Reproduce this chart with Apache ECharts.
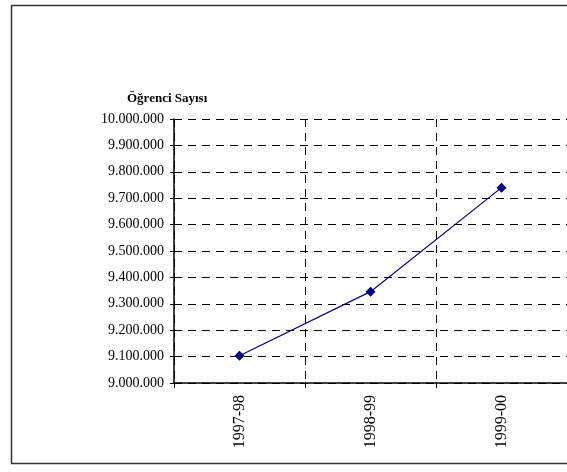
<!DOCTYPE html>
<html>
<head>
<meta charset="utf-8">
<script src="https://cdn.jsdelivr.net/npm/echarts@6/dist/echarts.min.js"></script>
<style>
html,body{margin:0;padding:0;background:#fff;}
#c{width:567px;height:472px;}
</style>
</head>
<body>
<div id="c"></div>
<script>
const categories = ['1997-98', '1998-99', '1999-00'];
const values = [9103000, 9346000, 9740000];
const yMin = 9000000, yMax = 10000000, yStep = 100000;
const yTitle = 'Öğrenci Sayısı';

function fmt(v){
  return String(Math.round(v)).replace(/\B(?=(\d{3})+(?!\d))/g, '.');
}

const chart = echarts.init(document.getElementById('c'));
chart.setOption({
  animation: false,
  backgroundColor: '#fff',
  graphic: [{
    type: 'rect',
    shape: {x: 11.5, y: 5.5, width: 620, height: 458},
    style: {fill: 'none', stroke: '#333', lineWidth: 1.5},
    silent: true
  }],
  title: {
    text: yTitle,
    left: 122, top: 87,
    textStyle: {fontFamily: 'Liberation Serif', fontSize: 13, fontWeight: 'bold', color: '#000'}
  },
  grid: {left: 174, top: 119, width: 396, height: 264, containLabel: false},
  xAxis: {
    type: 'category',
    data: categories,
    boundaryGap: true,
    axisLine: {show: true, lineStyle: {color: '#000', width: 1.5}},
    axisTick: {show: true, length: 5, lineStyle: {color: '#000'}},
    axisLabel: {rotate: 90, margin: 12, fontFamily: 'Liberation Serif', fontSize: 16, color: '#000'},
    splitLine: {show: true, lineStyle: {color: '#000', type: [8, 6], width: 1}}
  },
  yAxis: {
    type: 'value',
    min: yMin, max: yMax, interval: yStep,
    axisLine: {show: true, lineStyle: {color: '#000', width: 1.5}},
    axisTick: {show: true, length: 4, lineStyle: {color: '#000'}},
    axisLabel: {margin: 10, fontFamily: 'Liberation Serif', fontSize: 14, color: '#000', formatter: fmt},
    splitLine: {show: true, lineStyle: {color: '#000', type: [8, 6], width: 1}}
  },
  series: [{
    type: 'line',
    data: values,
    symbol: 'diamond',
    symbolSize: 10,
    lineStyle: {color: '#000080', width: 1.2},
    itemStyle: {color: '#000080'}
  }]
});
</script>
</body>
</html>
